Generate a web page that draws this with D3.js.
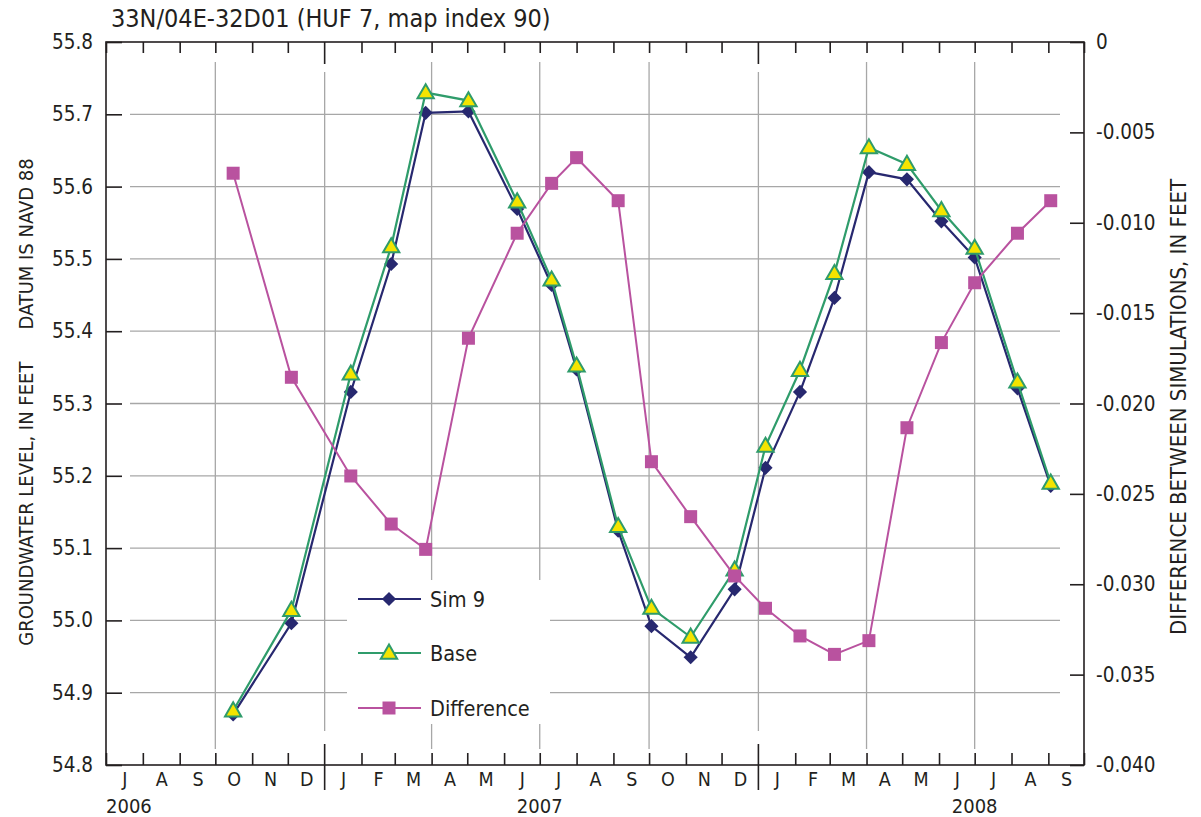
<!DOCTYPE html>
<html>
<head>
<meta charset="utf-8">
<script src="https://cdn.jsdelivr.net/npm/d3@7"></script>
<style>
  html, body { margin: 0; padding: 0; background: #fff; }
  svg text { font-family: "Liberation Sans Narrow", "DejaVu Sans Condensed", "Arial Narrow", sans-serif; fill: #231f20; }
</style>
</head>
<body>
<svg id="chart" width="1201" height="817"></svg>
<script>
// ---------------- data ----------------
const title = "33N/04E-32D01 (HUF 7, map index 90)";
const dates = ["2006-10-16","2006-12-04","2007-01-23","2007-02-26","2007-03-27","2007-05-02","2007-06-12","2007-07-11","2007-08-01","2007-09-05","2007-10-03","2007-11-05","2007-12-12","2008-01-07","2008-02-05","2008-03-05","2008-04-03","2008-05-05","2008-06-03","2008-07-01","2008-08-06","2008-09-03"];
const sim9 = [54.870, 54.996, 55.316, 55.493, 55.702, 55.704, 55.569, 55.464, 55.347, 55.124, 54.992, 54.949, 55.043, 55.211, 55.316, 55.446, 55.620, 55.610, 55.552, 55.502, 55.321, 55.186];
const base = [54.875, 55.014, 55.341, 55.517, 55.730, 55.719, 55.579, 55.471, 55.352, 55.130, 55.017, 54.977, 55.070, 55.241, 55.346, 55.480, 55.654, 55.631, 55.567, 55.515, 55.330, 55.190];
const difference = [-0.00726, -0.01855, -0.02401, -0.02667, -0.02807, -0.01639, -0.01058, -0.00782, -0.00640, -0.00878, -0.02322, -0.02626, -0.02954, -0.03133, -0.03286, -0.03388, -0.03312, -0.02134, -0.01663, -0.01332, -0.01058, -0.00878];
const seriesNames = ["Sim 9", "Base", "Difference"];
const leftTicks = [54.8, 54.9, 55.0, 55.1, 55.2, 55.3, 55.4, 55.5, 55.6, 55.7, 55.8];
const rightTicks = [-0.040, -0.035, -0.030, -0.025, -0.020, -0.015, -0.010, -0.005, 0];
const rightTickLabels = ["-0.040", "-0.035", "-0.030", "-0.025", "-0.020", "-0.015", "-0.010", "-0.005", "0"];
const monthLetters = ["J","F","M","A","M","J","J","A","S","O","N","D"];
const yearLabels = ["2006", "2007", "2008"];
const leftTitleA = "GROUNDWATER LEVEL, IN FEET";
const leftTitleB = "DATUM IS NAVD 88";
const rightTitle = "DIFFERENCE BETWEEN SIMULATIONS, IN FEET";

// ---------------- layout ----------------
const L = 106, R = 1084, T = 42, B = 765;
const FONT = '"Liberation Sans Narrow", "DejaVu Sans Condensed", "Arial Narrow", sans-serif';
const C = { axis: "#231f20", grid: "#a7a7a7", sim: "#27286f", base: "#2f9c6b", tri: "#f4e400", diff: "#b9529f" };
const parse = d3.utcParse("%Y-%m-%d");
const start = Date.UTC(2006, 6, 1), end = Date.UTC(2008, 9, 1);
const x = d3.scaleUtc().domain([new Date(start), new Date(end)]).range([L, R]);
const y = d3.scaleLinear().domain([54.8, 55.8]).range([B, T]);
const y2 = d3.scaleLinear().domain([-0.040, 0]).range([B, T]);

const svg = d3.select("#chart");
const rows = dates.map((d, i) => ({ date: parse(d), sim: sim9[i], base: base[i], diff: difference[i] }));

const monthBounds = d3.utcMonth.range(new Date(start), new Date(end + 1));
const yearBounds = monthBounds.filter(d => d.getUTCMonth() === 0);
const quarterBounds = monthBounds.filter(d => d.getUTCMonth() % 3 === 0 && +d !== start && +d !== end);

// ---------------- grid ----------------
const grid = svg.append("g");
grid.selectAll(".hg").data(leftTicks.slice(1, -1)).join("line")
  .attr("x1", L + 24).attr("x2", R - 24)
  .attr("y1", d => y(d)).attr("y2", d => y(d))
  .attr("stroke", C.grid).attr("stroke-width", 1.3);
grid.selectAll(".vg").data(quarterBounds).join("line")
  .attr("x1", d => x(d)).attr("x2", d => x(d))
  .attr("y1", d => d.getUTCMonth() === 0 ? T + 30 : T + 20)
  .attr("y2", d => d.getUTCMonth() === 0 ? B - 34 : B - 16)
  .attr("stroke", C.grid).attr("stroke-width", 1.3);

// legend box (hides grid)
svg.append("rect").attr("x", 347).attr("y", 580).attr("width", 203).attr("height", 144).attr("fill", "#fff");

// ---------------- axes ----------------
const ax = svg.append("g");
ax.append("rect").attr("x", L).attr("y", T).attr("width", R - L).attr("height", B - T)
  .attr("fill", "none").attr("stroke", C.axis).attr("stroke-width", 1.6);

const gl = ax.append("g").attr("transform", `translate(${L},0)`)
  .call(d3.axisLeft(y).tickValues(leftTicks).tickSizeInner(-16).tickSizeOuter(0).tickPadding(13).tickFormat(d3.format(".1f")));
const gr = ax.append("g").attr("transform", `translate(${R},0)`)
  .call(d3.axisRight(y2).tickValues(rightTicks).tickSizeInner(-14).tickSizeOuter(0).tickPadding(12)
    .tickFormat((d, i) => rightTickLabels[i]));
const gb = ax.append("g").attr("transform", `translate(0,${B})`)
  .call(d3.axisBottom(x).tickValues(monthBounds.filter(d => d.getUTCMonth() !== 0)).tickSizeInner(-12).tickSizeOuter(0).tickFormat(""));
ax.selectAll(".ybt").data(yearBounds).join("line")
  .attr("x1", d => x(d)).attr("x2", d => x(d)).attr("y1", B - 21).attr("y2", B + 25)
  .attr("stroke", C.axis).attr("stroke-width", 1.6);
const gt = ax.append("g").attr("transform", `translate(0,${T})`)
  .call(d3.axisTop(x).tickValues(monthBounds.filter(d => d.getUTCMonth() !== 0)).tickSizeInner(-11).tickSizeOuter(0).tickFormat(""));
ax.selectAll(".ytt").data(yearBounds).join("line")
  .attr("x1", d => x(d)).attr("x2", d => x(d)).attr("y1", T).attr("y2", T + 22)
  .attr("stroke", C.axis).attr("stroke-width", 1.6);
const midMonths = monthBounds.slice(0, -1).map(d => new Date(+d + (d3.utcMonth.offset(d, 1) - d) / 2));
const gm = ax.append("g").attr("transform", `translate(0,${B})`)
  .call(d3.axisBottom(x).tickValues(midMonths).tickSize(0).tickPadding(7).tickFormat(d => monthLetters[d.getUTCMonth()]));
gm.select(".domain").remove();
const yearPos = [new Date(start), new Date(Date.UTC(2007, 6, 1)), new Date(Date.UTC(2008, 6, 1))];
ax.selectAll(".yl").data(yearPos).join("text")
  .attr("x", d => x(d)).attr("y", 813)
  .attr("text-anchor", (d, i) => i === 0 ? "start" : "middle")
  .attr("font-size", 20)
  .text((d, i) => yearLabels[i]);

[gl, gr, gb, gt].forEach(g => {
  g.select(".domain").remove();
  g.selectAll(".tick line").attr("stroke", C.axis).attr("stroke-width", 1.6);
});
[gl, gr, gm].forEach(g => g.selectAll(".tick text").attr("font-size", 20.5).attr("fill", C.axis)
  .style("font-family", FONT));
gm.selectAll(".tick text").attr("font-size", 19.5);

// titles
svg.append("text").attr("x", 111).attr("y", 27).attr("font-size", 25).text(title);
const lt = svg.append("text").attr("transform", "translate(33,402) rotate(-90)")
  .attr("text-anchor", "middle").attr("font-size", 20);
lt.append("tspan").text(leftTitleA);
lt.append("tspan").attr("dx", 32).text(leftTitleB);
svg.append("text").attr("transform", "translate(1186,407) rotate(-90)")
  .attr("text-anchor", "middle").attr("font-size", 22).text(rightTitle);

// ---------------- series ----------------
const diamond = d3.symbol().type(d3.symbolSquare).size(100);
const tri = d3.symbol().type(d3.symbolTriangle).size(115);
const sq = d3.symbol().type(d3.symbolSquare).size(169);

const plot = svg.append("g");
function drawSeries(key, yScale, color, width, markerFn) {
  plot.append("path").datum(rows)
    .attr("fill", "none").attr("stroke", color).attr("stroke-width", width)
    .attr("d", d3.line().x(d => x(d.date)).y(d => yScale(d[key])));
  plot.selectAll(".m-" + key).data(rows).join("path").call(markerFn);
}
drawSeries("sim", y, C.sim, 2.2, s => s.attr("d", diamond).attr("fill", C.sim)
  .attr("transform", d => `translate(${x(d.date)},${y(d.sim)}) rotate(45)`));
drawSeries("base", y, C.base, 2.2, s => s.attr("d", tri).attr("fill", C.tri).attr("stroke", C.base).attr("stroke-width", 2)
  .attr("transform", d => `translate(${x(d.date)},${y(d.base) + 1})`));
drawSeries("diff", y2, C.diff, 2, s => s.attr("d", sq).attr("fill", C.diff)
  .attr("transform", d => `translate(${x(d.date)},${y2(d.diff)})`));

// ---------------- legend ----------------
const legendY = [599, 653, 708];
const lg = svg.append("g");
const lcol = [C.sim, C.base, C.diff];
seriesNames.forEach((name, i) => {
  const g = lg.append("g").attr("transform", `translate(0,${legendY[i]})`);
  g.append("line").attr("x1", 358).attr("x2", 421).attr("y1", 0).attr("y2", 0)
    .attr("stroke", lcol[i]).attr("stroke-width", 2.2);
  const m = g.append("path");
  if (i === 0) m.attr("d", diamond).attr("fill", C.sim).attr("transform", "translate(389,0) rotate(45)");
  if (i === 1) m.attr("d", tri).attr("fill", C.tri).attr("stroke", C.base).attr("stroke-width", 2).attr("transform", "translate(389,1)");
  if (i === 2) m.attr("d", sq).attr("fill", C.diff).attr("transform", "translate(389,0)");
  g.append("text").attr("x", 430).attr("y", 8).attr("font-size", 21.5).text(name);
});
</script>
</body>
</html>
